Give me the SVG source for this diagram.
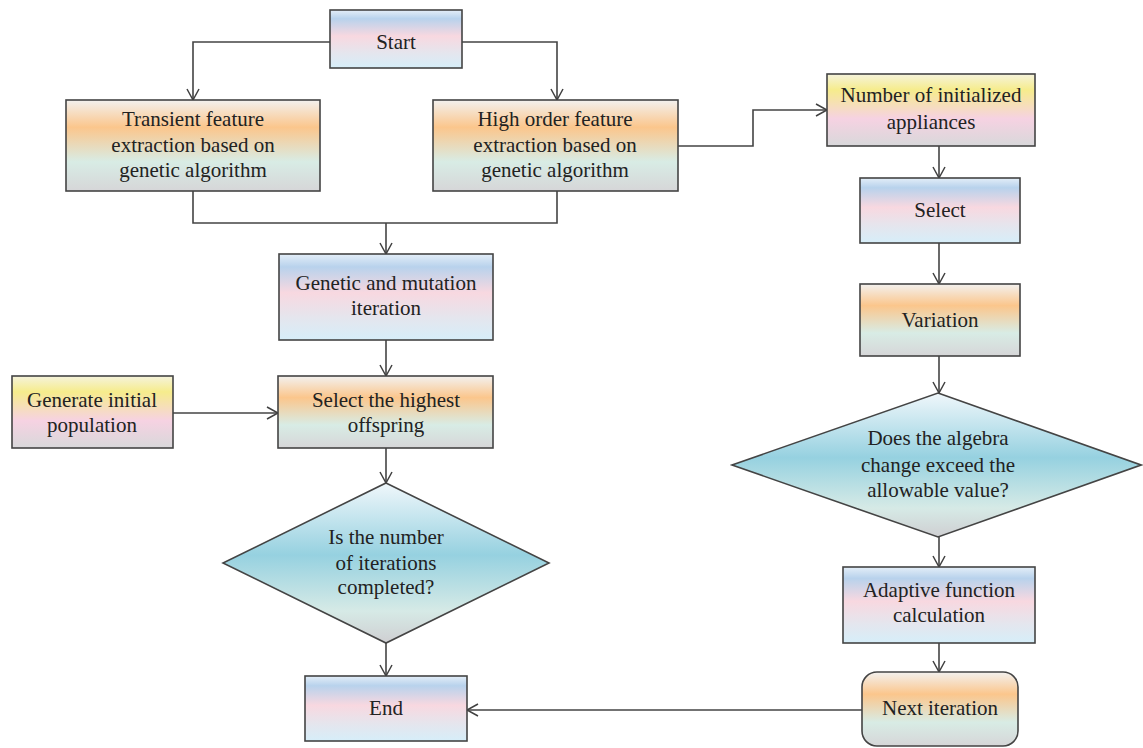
<svg xmlns="http://www.w3.org/2000/svg" width="1143" height="748" viewBox="0 0 1143 748">
<defs>
<linearGradient id="gBlue" x1="0" y1="0" x2="0" y2="1">
<stop offset="0" stop-color="#e4eef8"/>
<stop offset="0.15" stop-color="#b8d2ec"/>
<stop offset="0.45" stop-color="#f8d8e0"/>
<stop offset="0.75" stop-color="#e4e6ee"/>
<stop offset="1" stop-color="#d6eef9"/>
</linearGradient>
<linearGradient id="gOrange" x1="0" y1="0" x2="0" y2="1">
<stop offset="0" stop-color="#f3f1ef"/>
<stop offset="0.3" stop-color="#fbc68c"/>
<stop offset="0.68" stop-color="#d8ece5"/>
<stop offset="1" stop-color="#d6d6d8"/>
</linearGradient>
<linearGradient id="gYellow" x1="0" y1="0" x2="0" y2="1">
<stop offset="0" stop-color="#f5f3dc"/>
<stop offset="0.22" stop-color="#f6ec8c"/>
<stop offset="0.62" stop-color="#f6d2e2"/>
<stop offset="1" stop-color="#d8d8da"/>
</linearGradient>
<linearGradient id="gDia" x1="0" y1="0" x2="0" y2="1">
<stop offset="0" stop-color="#f0f7fb"/>
<stop offset="0.45" stop-color="#96d1e0"/>
<stop offset="0.8" stop-color="#d6eae6"/>
<stop offset="1" stop-color="#cfcfd2"/>
</linearGradient>
<marker id="arr" markerWidth="14" markerHeight="14" refX="12" refY="7" orient="auto" markerUnits="userSpaceOnUse">
<path d="M1,1 L12,7 L1,13" fill="none" stroke="#404040" stroke-width="1.5"/>
</marker>
<style>
.box{stroke:#444;stroke-width:1.6}
.t{font-family:"Liberation Serif","Times New Roman",serif;font-size:21px;fill:#222;text-anchor:middle}
.c{fill:none;stroke:#444;stroke-width:1.6}
</style>
</defs>

<g id="connectors">
<path class="c" d="M330,42 H193 V100" marker-end="url(#arr)"/>
<path class="c" d="M462,42 H557 V100" marker-end="url(#arr)"/>
<path class="c" d="M193,191 V223 H557 V191"/>
<path class="c" d="M386,223 V254" marker-end="url(#arr)"/>
<path class="c" d="M386,340 V376" marker-end="url(#arr)"/>
<path class="c" d="M173,413 H278" marker-end="url(#arr)"/>
<path class="c" d="M386,448 V483" marker-end="url(#arr)"/>
<path class="c" d="M386,643 V676" marker-end="url(#arr)"/>
<path class="c" d="M678,146 H753 V110 H827" marker-end="url(#arr)"/>
<path class="c" d="M939,146 V178" marker-end="url(#arr)"/>
<path class="c" d="M939,243 V284" marker-end="url(#arr)"/>
<path class="c" d="M939,356 V393" marker-end="url(#arr)"/>
<path class="c" d="M939,537 V567" marker-end="url(#arr)"/>
<path class="c" d="M939,643 V672" marker-end="url(#arr)"/>
<path class="c" d="M862,710 H467" marker-end="url(#arr)"/>
</g>

<g id="start">
<rect class="box" x="330" y="10" width="132" height="58" fill="url(#gBlue)"/>
<text class="t" x="396" y="49">Start</text>
</g>
<g id="transient">
<rect class="box" x="66" y="100" width="254" height="91" fill="url(#gOrange)"/>
<text class="t" x="193" y="126">Transient feature</text>
<text class="t" x="193" y="152">extraction based on</text>
<text class="t" x="193" y="177">genetic algorithm</text>
</g>
<g id="highorder">
<rect class="box" x="433" y="100" width="245" height="91" fill="url(#gOrange)"/>
<text class="t" x="555" y="126">High order feature</text>
<text class="t" x="555" y="152">extraction based on</text>
<text class="t" x="555" y="177">genetic algorithm</text>
</g>
<g id="genetic">
<rect class="box" x="279" y="254" width="214" height="86" fill="url(#gBlue)"/>
<text class="t" x="386" y="290">Genetic and mutation</text>
<text class="t" x="386" y="315">iteration</text>
</g>
<g id="generate">
<rect class="box" x="12" y="376" width="161" height="72" fill="url(#gYellow)"/>
<text class="t" x="92" y="407">Generate initial</text>
<text class="t" x="92" y="432">population</text>
</g>
<g id="selecthighest">
<rect class="box" x="278" y="376" width="215" height="72" fill="url(#gOrange)"/>
<text class="t" x="386" y="407">Select the highest</text>
<text class="t" x="386" y="432">offspring</text>
</g>
<g id="decision1">
<polygon class="box" points="386,483 549,563 386,643 223,563" fill="url(#gDia)"/>
<text class="t" x="386" y="544">Is the number</text>
<text class="t" x="386" y="570">of iterations</text>
<text class="t" x="386" y="594">completed?</text>
</g>
<g id="end">
<rect class="box" x="305" y="676" width="162" height="65" fill="url(#gBlue)"/>
<text class="t" x="386" y="715">End</text>
</g>
<g id="number">
<rect class="box" x="827" y="74" width="208" height="72" fill="url(#gYellow)"/>
<text class="t" x="931" y="102">Number of initialized</text>
<text class="t" x="931" y="129">appliances</text>
</g>
<g id="select">
<rect class="box" x="860" y="178" width="160" height="65" fill="url(#gBlue)"/>
<text class="t" x="940" y="217">Select</text>
</g>
<g id="variation">
<rect class="box" x="860" y="284" width="160" height="72" fill="url(#gOrange)"/>
<text class="t" x="940" y="327">Variation</text>
</g>
<g id="decision2">
<polygon class="box" points="938,393 1141,465 938,537 732,465" fill="url(#gDia)"/>
<text class="t" x="938" y="445">Does the algebra</text>
<text class="t" x="938" y="472">change exceed the</text>
<text class="t" x="938" y="497">allowable value?</text>
</g>
<g id="adaptive">
<rect class="box" x="843" y="567" width="192" height="76" fill="url(#gBlue)"/>
<text class="t" x="939" y="597">Adaptive function</text>
<text class="t" x="939" y="622">calculation</text>
</g>
<g id="next">
<rect class="box" x="862" y="672" width="156" height="74" rx="15" ry="15" fill="url(#gOrange)"/>
<text class="t" x="940" y="715">Next iteration</text>
</g>
</svg>
